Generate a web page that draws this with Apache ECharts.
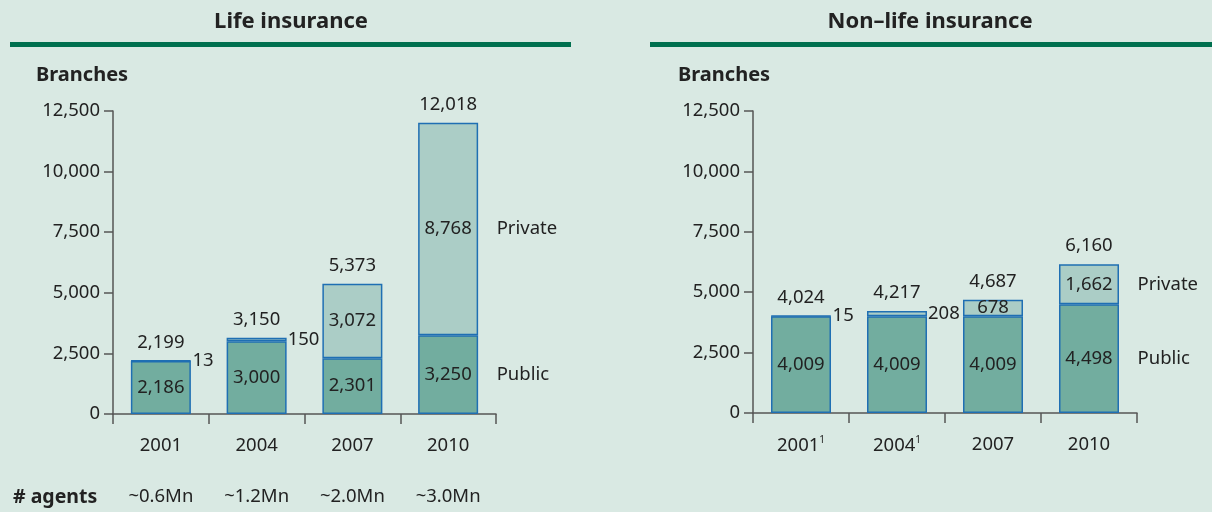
<!DOCTYPE html>
<html>
<head>
<meta charset="utf-8">
<script src="https://cdn.jsdelivr.net/npm/echarts@6/dist/echarts.min.js"></script>
<style>
  html, body { margin: 0; padding: 0; background: #d9e9e3; }
  #chart { width: 1212px; height: 512px; }
</style>
</head>
<body>
<div id="chart"></div>
<script>
// data
const years = ['2001', '2004', '2007', '2010'];
const nonLifeFootnote = [true, true, false, false];
const lifePublic = [2186, 3000, 2301, 3250];
const lifePrivate = [13, 150, 3072, 8768];
const nonLifePublic = [4009, 4009, 4009, 4498];
const nonLifePrivate = [15, 208, 678, 1662];
const agents = ['~0.6Mn', '~1.2Mn', '~2.0Mn', '~3.0Mn'];
const yMin = 0, yMax = 12500, yStep = 2500;

const FONT = 'Noto Sans';
const FS = 18.5;
const TXT = '#222';
const AXIS = '#555';
const PUB = '#72ad9f';
const PRIV = '#abcdc6';
const EDGE = '#1f6fb3';

const fmt = v => v.toLocaleString('en-US');

const yAxis = (grid) => ({
  type: 'value', gridIndex: grid, min: yMin, max: yMax, interval: yStep,
  axisLine: { show: true, lineStyle: { color: AXIS, width: 1.5 } },
  axisTick: { show: true, length: 9, lineStyle: { color: AXIS, width: 1.5 } },
  axisLabel: { color: TXT, fontFamily: FONT, fontSize: FS, margin: 13, formatter: fmt },
  splitLine: { show: false }
});

const xAxis = (grid, formatter) => ({
  type: 'category', gridIndex: grid, data: years,
  axisLine: { lineStyle: { color: AXIS, width: 1.5 } },
  axisTick: { show: true, length: 10, lineStyle: { color: AXIS, width: 1.5 } },
  axisLabel: {
    color: TXT, fontFamily: FONT, fontSize: FS, margin: 22, interval: 0, formatter: formatter,
    rich: { sup: { fontSize: 10, fontFamily: FONT, color: TXT, padding: [0, 0, 11, 0] } }
  }
});

function seriesFor(pub, priv, grid) {
  const totals = pub.map((v, i) => v + priv[i]);
  const last = pub.length - 1;
  const lbl = { color: TXT, fontFamily: FONT, fontSize: FS };
  const sideName = (name, val) => ({
    symbol: 'circle', symbolSize: 1, silent: true,
    itemStyle: { color: 'rgba(0,0,0,0)' },
    label: { show: true, position: 'right', distance: 48, formatter: name, ...lbl },
    data: [{ coord: [last, val] }]
  });
  return [
    {
      type: 'bar', name: 'Public', stack: 's' + grid, xAxisIndex: grid * 2, yAxisIndex: grid,
      barWidth: 60, data: pub,
      itemStyle: { color: PUB, borderColor: EDGE, borderWidth: 1.5 },
      label: { show: true, position: 'inside', formatter: p => fmt(p.value), ...lbl },
      markPoint: sideName('Public', pub[last] / 2)
    },
    {
      type: 'bar', name: 'Private', stack: 's' + grid, xAxisIndex: grid * 2, yAxisIndex: grid,
      barWidth: 60,
      data: priv.map(v => ({
        value: v,
        label: v < 400 ? { position: 'right', distance: 1 } : { position: 'inside' }
      })),
      itemStyle: { color: PRIV, borderColor: EDGE, borderWidth: 1.5 },
      label: { show: true, formatter: p => fmt(p.value), ...lbl },
      markPoint: sideName('Private', pub[last] + priv[last] / 2)
    },
    {
      type: 'scatter', xAxisIndex: grid * 2, yAxisIndex: grid, symbolSize: 1,
      data: totals, silent: true,
      itemStyle: { color: 'rgba(0,0,0,0)', opacity: 1 },
      label: { show: true, position: 'top', distance: 8, formatter: p => fmt(p.value), ...lbl }
    }
  ];
}

const agentsAxis = (grid) => ({
  type: 'category', gridIndex: grid, data: agents, position: 'bottom', offset: 52,
  axisLine: { show: false }, axisTick: { show: false },
  axisLabel: { color: TXT, fontFamily: FONT, fontSize: FS, margin: 21, interval: 0 }
});

const heading = (text, cx) => ({
  type: 'text', x: cx, y: 22,
  style: { text: text, fill: TXT, font: 'bold 22px "Noto Sans"', textAlign: 'center', textVerticalAlign: 'middle' }
});
const rule = (x1, x2) => ({
  type: 'rect', shape: { x: x1, y: 42, width: x2 - x1, height: 5 },
  style: { fill: '#00704f' }
});
const bold = (text, x, y, size) => ({
  type: 'text', x: x, y: y,
  style: { text: text, fill: TXT, font: 'bold ' + size + 'px "Noto Sans"', textVerticalAlign: 'middle' }
});

const chart = echarts.init(document.getElementById('chart'));
chart.setOption({
  backgroundColor: '#d9e9e3',
  animation: false,
  grid: [
    { left: 113, right: 716, top: 111, bottom: 98 },
    { left: 753, right: 75, top: 111, bottom: 99 }
  ],
  xAxis: [
    xAxis(0, v => v),
    agentsAxis(0),
    xAxis(1, (v, i) => nonLifeFootnote[i] ? v + '{sup|1}' : v)
  ],
  yAxis: [yAxis(0), yAxis(1)],
  series: [
    ...seriesFor(lifePublic, lifePrivate, 0),
    ...seriesFor(nonLifePublic, nonLifePrivate, 1).map(s => ({ ...s, xAxisIndex: 2 }))
  ],
  graphic: [
    heading('Life insurance', 291),
    heading('Non\u2013life insurance', 930),
    rule(10, 571),
    rule(650, 1212),
    bold('Branches', 36, 75, 20),
    bold('Branches', 678, 75, 20),
    bold('# agents', 13, 497, 19.5)
  ]
});
</script>
</body>
</html>
